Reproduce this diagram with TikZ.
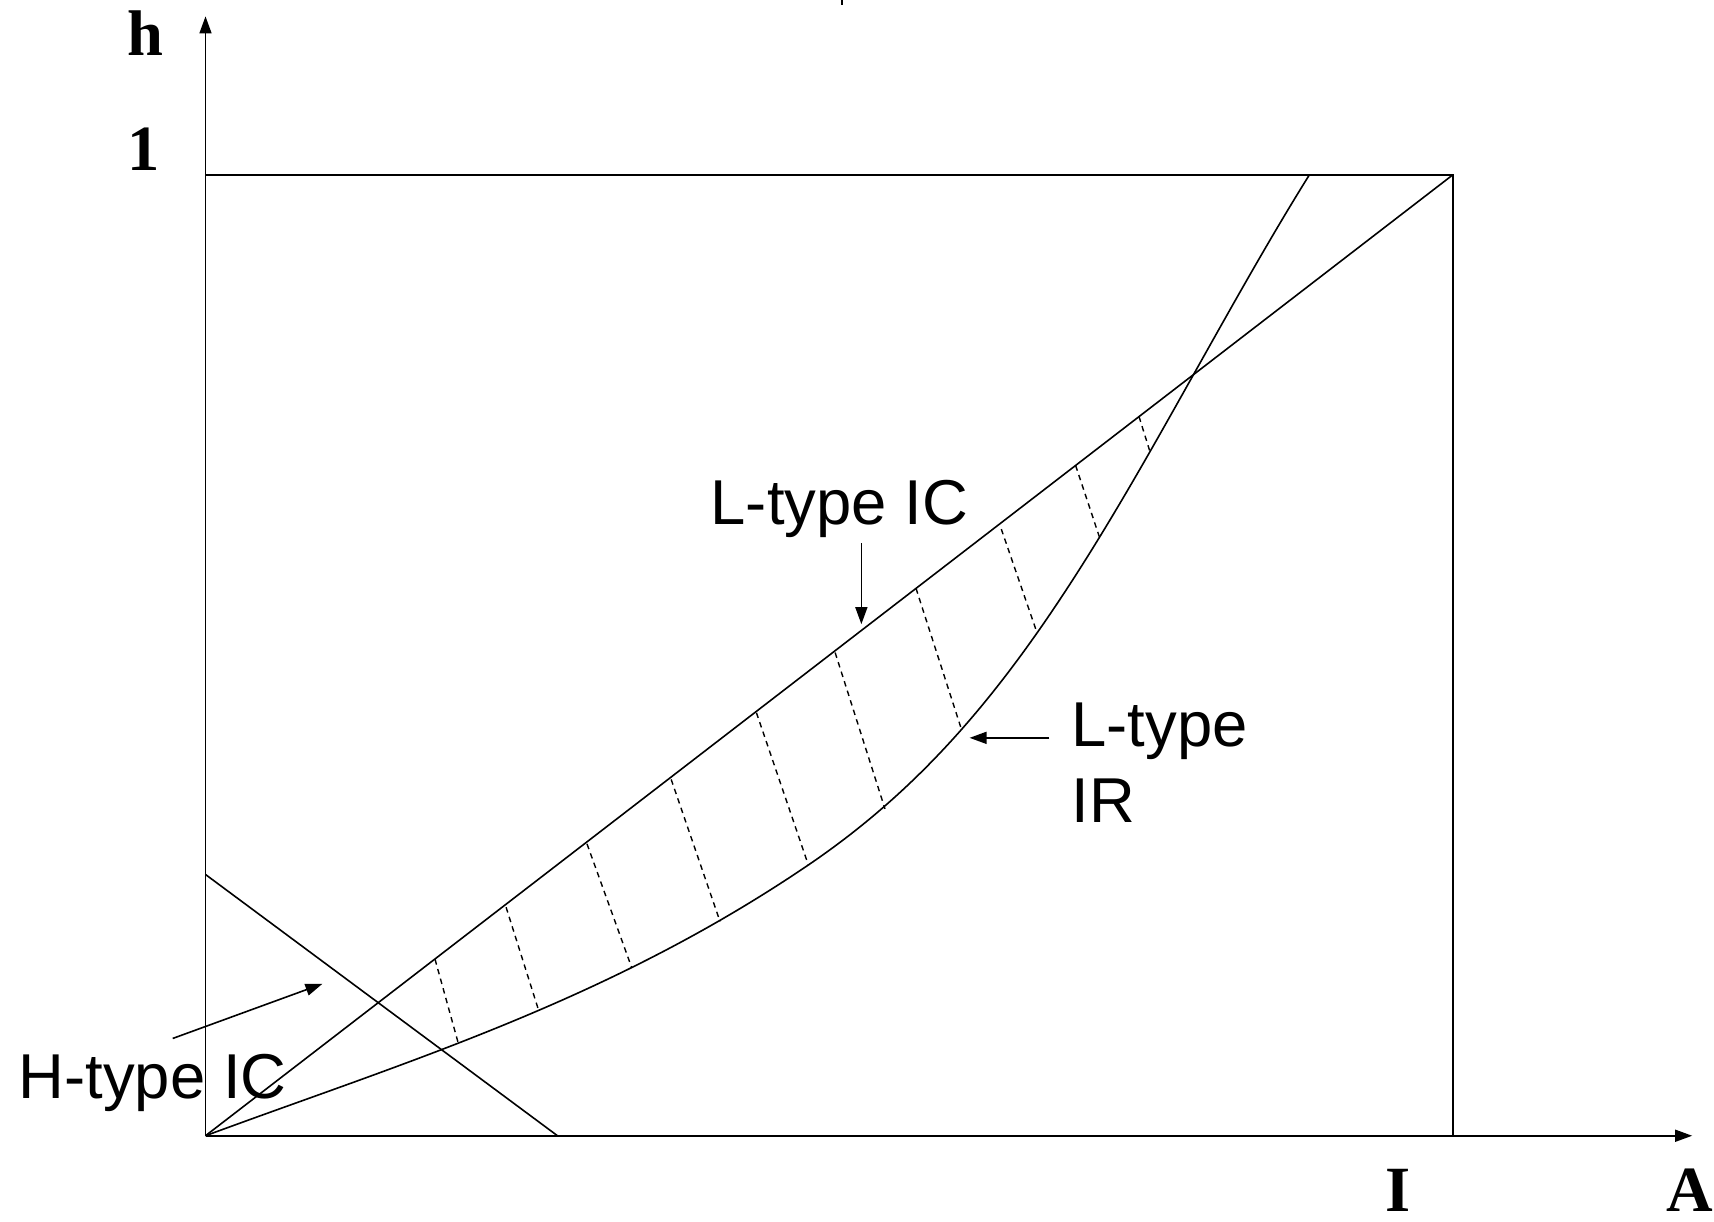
\documentclass[tikz,border=0pt]{standalone}
\usepackage{fontspec}
\setmainfont{Liberation Serif}
\newfontfamily\lblfont{Liberation Sans}
\usetikzlibrary{arrows.meta}
\begin{document}
\begin{tikzpicture}[x=1.0931pt,y=-1.0931pt,
  ln/.style={line width=1.6pt},
  dsh/.style={line width=1.4pt,dash pattern=on 5.5pt off 4.5pt},
  tip/.style={-{Triangle[length=17pt,width=12pt]}},
  sanslbl/.style={font=\lblfont\fontsize{63.4}{75.4}\selectfont, inner sep=0pt, anchor=base west, align=left},
  serlbl/.style={font=\bfseries\fontsize{64.5}{77}\selectfont, inner sep=0pt, anchor=base}]
\useasboundingbox[fill=white] (0,0) rectangle (1568,1117);
% key points
\coordinate (O) at (188,1039);
\coordinate (Ytop) at (188,15);
\coordinate (Xend) at (1548,1039);
\coordinate (TL) at (188,160);
\coordinate (TR) at (1329,160);
\coordinate (BR) at (1329,1039);
\coordinate (Hs) at (188,800);
\coordinate (He) at (510,1039);
\coordinate (P) at (739.5,791.3);
\coordinate (Q) at (1052,413.2);
\coordinate (E) at (1197.8,160);
% axes and box
\draw[ln,tip] (O) -- (Ytop);
\draw[ln,tip] (O) -- (Xend);
\draw[ln] (TL) -- (TR) -- (BR);
\draw[ln] (O) -- (TR);
\draw[ln] (Hs) -- (He);
% L-type IR curve
\draw[ln] (O) .. controls (372,971) and (555.5,916.2) .. (P)
              .. controls (869.5,702.9) and (952,588.2) .. (Q)
              .. controls (1100.6,328.2) and (1149.2,237.8) .. (E);
% dashed hatching
\foreach \xa/\ya/\xb/\yb in {398/877.6/419/953.5, 463/830/492.5/923.5, 537/772/578/885.5, 614/713/658.7/843, 692/652/739.5/791.3, 764/597/809.6/740, 838/538.3/879.8/668, 916/484/948.4/578, 984/425.8/1006/492, 1042/381.1/1052/413.2}
  \draw[dsh] (\xa,\ya) -- (\xb,\yb);
% axis labels
\node[serlbl] (hlab) at (133,51) {h};
\node[serlbl] (onelab) at (131,156) {1};
\node[serlbl] (Ilab) at (1279,1108) {I};
\node[serlbl] (Alab) at (1546,1108) {A};
% curve labels
\node[sanslbl] (lic) at (650,480) {L-type IC};
\coordinate (licS) at (788,497);
\coordinate (licE) at (788,571);
\draw[ln,tip] (licS) -- (licE);
\node[sanslbl] (lir) at (980,752) {L-type\\IR};
\coordinate (lirS) at (960,675);
\coordinate (lirE) at (887,675);
\draw[ln,tip] (lirS) -- (lirE);
\node[sanslbl] (hic) at (17,1005) {H-type IC};
\coordinate (hicS) at (158,950);
\coordinate (hicE) at (295,900);
\draw[ln,tip] (hicS) -- (hicE);
% fragment at top edge
\draw[line width=2pt] (770,0) -- (770,5);
\end{tikzpicture}
\end{document}
